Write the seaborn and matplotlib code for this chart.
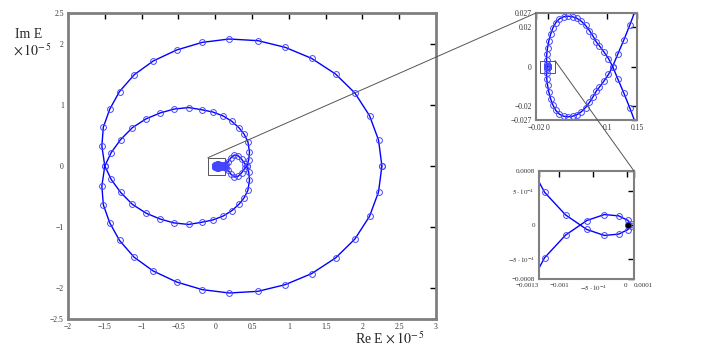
import matplotlib
matplotlib.use("Agg")
import matplotlib.pyplot as plt
from matplotlib.patches import Rectangle, ConnectionPatch
import seaborn as sns

sns.set_style('white')
plt.rcParams['font.family'] = ['Liberation Serif', 'DejaVu Serif']
plt.rcParams['mathtext.fontset'] = 'stix'

# branch going outwards from the end point (Re E, Im E in units of 1e-5)
re_a = [0.00001, 0.00005, 0.000007, -0.000125, -0.000336, -0.000595, -0.000909, -0.001218,
        -0.0016, -0.0022, -0.0018, -0.0005, 0.0015, 0.0045, 0.0085, 0.0135, 0.0195, 0.0265,
        0.034, 0.0415, 0.049, 0.0565, 0.0635, 0.070, 0.076, 0.0815, 0.0865, 0.094, 0.102,
        0.109, 0.118, 0.128, 0.138, 0.148,
        0.17, 0.21, 0.26, 0.31, 0.36, 0.40, 0.43,
        0.455, 0.466, 0.444, 0.394, 0.326, 0.226, 0.109, -0.032, -0.186, -0.362, -0.56,
        -0.75, -0.94, -1.125, -1.284, -1.413, -1.50,
        -1.54, -1.52, -1.433, -1.30, -1.10, -0.842, -0.525, -0.177, 0.19, 0.58, 0.951,
        1.309, 1.635, 1.898, 2.097, 2.219, 2.265]
im_a = [0.0, 0.00002, 0.00007, 0.000135, 0.000155, 0.0000665, -0.00015, -0.000485,
        -0.0012, -0.0035, -0.0065, -0.0095, -0.0128, -0.0162, -0.0195, -0.0222, -0.0241, -0.0251,
        -0.0254, -0.0251, -0.0243, -0.0228, -0.0207, -0.0181, -0.0153, -0.0124, -0.0105, -0.0075, -0.004,
        0.0, 0.0065, 0.0135, 0.021, 0.029,
        0.06, 0.13, 0.18, 0.17, 0.11, 0.04, 0.0,
        -0.1, -0.229, -0.398, -0.518, -0.621, -0.730, -0.817, -0.882, -0.920, -0.955, -0.93,
        -0.866, -0.77, -0.627, -0.433, -0.22, 0.0,
        0.327, 0.634, 0.928, 1.217, 1.492, 1.716, 1.895, 2.02, 2.075, 2.048, 1.939,
        1.759, 1.503, 1.193, 0.822, 0.425, 0.0]

# conjugate branch
re_b = [0.00001, 0.00005, 0.000007, -0.000125, -0.000336, -0.000595, -0.000909, -0.001218,
        -0.0016, -0.0022, -0.0018, -0.0005, 0.0015, 0.0045, 0.0085, 0.0135, 0.0195, 0.0265,
        0.034, 0.0415, 0.049, 0.0565, 0.0635, 0.070, 0.076, 0.0815, 0.0865, 0.094, 0.102,
        0.109, 0.118, 0.128, 0.138, 0.148,
        0.17, 0.21, 0.26, 0.31, 0.36, 0.40, 0.43,
        0.455, 0.466, 0.444, 0.394, 0.326, 0.226, 0.109, -0.032, -0.186, -0.362, -0.56,
        -0.75, -0.94, -1.125, -1.284, -1.413, -1.50,
        -1.54, -1.52, -1.433, -1.30, -1.10, -0.842, -0.525, -0.177, 0.19, 0.58, 0.951,
        1.309, 1.635, 1.898, 2.097, 2.219, 2.265]
im_b = [0.0, -0.00002, -0.00007, -0.000135, -0.000155, -0.0000665, 0.00015, 0.000485,
        0.0012, 0.0035, 0.0065, 0.0095, 0.0128, 0.0162, 0.0195, 0.0222, 0.0241, 0.0251,
        0.0254, 0.0251, 0.0243, 0.0228, 0.0207, 0.0181, 0.0153, 0.0124, 0.0105, 0.0075, 0.004,
        0.0, -0.0065, -0.0135, -0.021, -0.029,
        -0.06, -0.13, -0.18, -0.17, -0.11, -0.04, 0.0,
        0.1, 0.229, 0.398, 0.518, 0.621, 0.730, 0.817, 0.882, 0.920, 0.955, 0.93,
        0.866, 0.77, 0.627, 0.433, 0.22, 0.0,
        -0.327, -0.634, -0.928, -1.217, -1.492, -1.716, -1.895, -2.02, -2.075, -2.048, -1.939,
        -1.759, -1.503, -1.193, -0.822, -0.425, 0.0]

main_xticks = [-2, -1.5, -1, -0.5, 0, 0.5, 1, 1.5, 2, 2.5, 3]
main_xlabels = ['\u22122', '\u22121.5', '\u22121', '\u22120.5', '0', '0.5', '1', '1.5', '2', '2.5', '3']
main_yticks = [-2.5, -2, -1, 0, 1, 2, 2.5]
main_ylabels = ['\u22122.5', '\u22122', '\u22121', '0', '1', '2', '2.5']

in1_xticks = [-0.02, 0, 0.1, 0.15]
in1_xlabels = ['\u22120.02', '0', '0.1', '0.15']
in1_yticks = [-0.027, -0.02, 0, 0.02, 0.027]
in1_ylabels = ['\u22120.027', '\u22120.02', '0', '0.02', '0.027']

in2_xticks = [-0.0013, -0.001, -0.0005, 0, 0.0001]
in2_xlabels = ['\u22120.0013', '\u22120.001', r'$-5\cdot10^{-4}$', '0', '0.0001']
in2_yticks = [-0.0008, -0.0005, 0, 0.0005, 0.0008]
in2_ylabels = ['\u22120.0008', r'$-5\cdot10^{-4}$', '0', r'$5\cdot10^{-4}$', '0.0008']

W, H = 716, 346
fig = plt.figure(figsize=(W / 100, H / 100), dpi=100)


def add_ax(l, t, r, b):
    return fig.add_axes([l / W, 1 - b / H, (r - l) / W, (b - t) / H])


def draw_curve(ax, ms):
    for xs, ys in [(re_a, im_a), (re_b, im_b)]:
        sns.lineplot(x=xs, y=ys, sort=False, estimator=None, ax=ax, color='#0000ff',
                     lw=1.0, marker='o', markersize=ms, markerfacecolor='none',
                     markeredgecolor='#4646ff', markeredgewidth=0.7)


def style_ax(ax, xt, xl, yt, yl, spine_w, size):
    ax.set_xticks(xt)
    ax.set_xticklabels(xl)
    ax.set_yticks(yt)
    ax.set_yticklabels(yl)
    ax.tick_params(direction='in', length=4, width=1, color='black', labelsize=size,
                   labelcolor='#333333', top=True, right=True, pad=3)
    for s in ax.spines.values():
        s.set_color('#808080')
        s.set_linewidth(spine_w)
    ax.set_xlabel('')
    ax.set_ylabel('')


# main plot
ax = add_ax(68, 13, 436, 319)
draw_curve(ax, 4.2)
ax.set_xlim(-2, 3)
ax.set_ylim(-2.5, 2.5)
style_ax(ax, main_xticks, main_xlabels, main_yticks, main_ylabels, 2, 5.5)
ax.add_patch(Rectangle((-0.1, -0.145), 0.235, 0.28, fill=False, ec='#555555', lw=0.7, zorder=5))

# first zoom
ax1 = add_ax(536, 13, 637, 120)
draw_curve(ax1, 4.2)
ax1.set_xlim(-0.02, 0.15)
ax1.set_ylim(-0.027, 0.027)
style_ax(ax1, in1_xticks, in1_xlabels, in1_yticks, in1_ylabels, 1.5, 5.5)
ax1.add_patch(Rectangle((-0.014, -0.0033), 0.026, 0.0063, fill=False, ec='#555555', lw=0.7, zorder=5))

# second zoom
ax2 = add_ax(539, 171, 634, 279)
draw_curve(ax2, 4.2)
ax2.plot([0.000007], [0.0], 'o', color='black', ms=3, zorder=6)
ax2.set_xlim(-0.0013, 0.0001)
ax2.set_ylim(-0.0008, 0.0008)
style_ax(ax2, in2_xticks, in2_xlabels, in2_yticks, in2_ylabels, 1.5, 5)
xl2 = ax2.get_xticklabels()
xl2[0].set_ha('right')
xl2[3].set_ha('right')
xl2[4].set_ha('left')

# connector lines
for xyA, axA, xyB, axB in [((-0.1, 0.135), ax, (0, 1), ax1), ((0.012, 0.003), ax1, (1, 1), ax2)]:
    con = ConnectionPatch(xyA=xyA, coordsA=axA.transData, xyB=xyB, coordsB=axB.transAxes,
                          color='#555555', lw=0.7, zorder=10)
    fig.add_artist(con)

fig.text(15 / W, 1 - 34 / H, 'Im E', fontsize=10, va='center', ha='left')
fig.text(13 / W, 1 - 51 / H, r'$\times\,10^{-\,5}$', fontsize=10, va='center', ha='left')
fig.text(355 / W, 1 - 338 / H, r'Re E $\times\,10^{-\,5}$', fontsize=10, va='center', ha='left')

fig.savefig('out.png', dpi=100)
